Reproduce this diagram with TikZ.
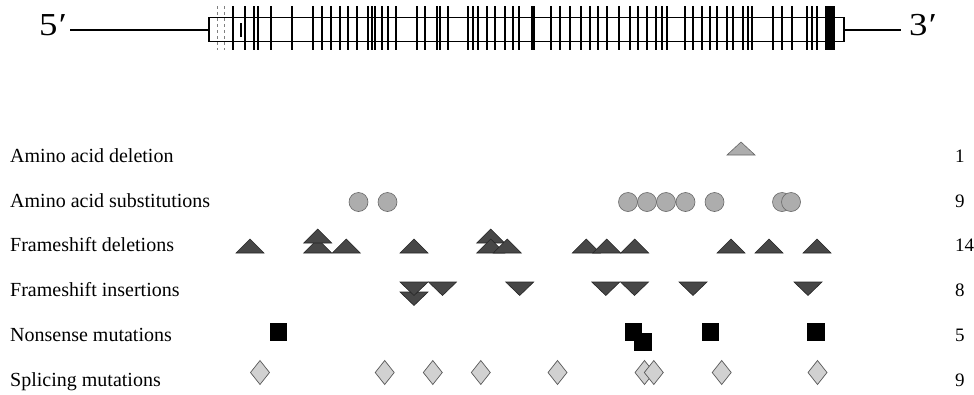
\documentclass[tikz,border=0pt]{standalone}
\usepackage{fontspec}
\setmainfont{Liberation Serif}
\begin{document}
\begin{tikzpicture}[x=1pt,y=-1pt,
    lbl/.style={anchor=base west,inner sep=0pt,font=\fontsize{20}{24}\selectfont},
    cnt/.style={anchor=base west,inner sep=0pt,font=\fontsize{19}{22}\selectfont},
    endlbl/.style={anchor=base west,inner sep=0pt,transform shape,xscale=1.15,
                   font=\fontsize{32}{36}\selectfont},
    exon/.style={line width=2.1pt},
    lightsym/.style={fill=black!32,draw=black!60,line width=0.6pt},
    darksym/.style={fill=black!72,draw=black!85,line width=0.6pt},
    diamsym/.style={fill=black!18,draw=black!65,line width=0.7pt}]

    \useasboundingbox (0,0) rectangle (974,394);

    % gene
    \node[endlbl] (five) at (39,35) {5\kern1pt′};
    \node[endlbl] (three) at (909,35) {3\kern1pt′};
    \coordinate (geneL) at (209,30);
    \coordinate (geneR) at (844,30);
    \draw[line width=2.5pt] ([xshift=3pt]five.east |- geneL) -- (geneL);
    \draw[line width=2.2pt] (geneR) -- ([xshift=-8pt]three.west |- geneR);
    \draw[line width=1.9pt] (209,17.5) rectangle (844,41.5);

    \foreach \x in {217,224}
        \draw[black!50,dashed,line width=0.6pt] (\x,6) -- (\x,50);
    \foreach \x in {233,241}
        \draw[line width=2.2pt] (\x,23) -- (\x,37);
    \foreach \x in {233,245,254,258,271,292,313,322,331,340,348,357,
                    368,372,375,382,388,396,417,425,437,440,448,468,473,478,
                    487,495,505,513,519,551,560,570,581,590,598,607,619,630,
                    638,647,656,662,667,685,693,702,710,717,727,733,743,748,
                    752,773,782,792,807,812,817}
        \draw[exon] (\x,6) -- (\x,50);
    \draw[line width=3.6pt] (533,6) -- (533,50);
    \fill (825,6) rectangle (835,50);

    % row labels and counts
    \node[lbl] (del) at (10,162) {Amino acid deletion};
    \node[lbl] (sub) at (10,207) {Amino acid substitutions};
    \node[lbl] (fsdel) at (10,251) {Frameshift deletions};
    \node[lbl] (fsins) at (10,296) {Frameshift insertions};
    \node[lbl] (nons) at (10,341) {Nonsense mutations};
    \node[lbl] (splice) at (10,386) {Splicing mutations};

    \node[cnt] (ndel) at (955,162) {1};
    \node[cnt] (nsub) at (955,207) {9};
    \node[cnt] (nfsdel) at (955,251) {14};
    \node[cnt] (nfsins) at (955,296) {8};
    \node[cnt] (nnons) at (955,341) {5};
    \node[cnt] (nsplice) at (955,386) {9};

    % mutations
    \draw[lightsym] (727,155) -- (755,155) -- (741,142) -- cycle;

    \foreach \x in {358.5,387.5,628,647,666,685.5,714.5,782,791}
        \draw[lightsym] (\x,202) circle (9.5);

    \foreach \x/\b in {250/253,317.7/253,317.7/243,346.3/253,414/253,490.7/243,
                       490.7/253,507.3/253,586.3/253,606.7/253,634.7/253,
                       731/253,769/253,817/253}
        \draw[darksym] (\x-14,\b) -- (\x+14,\b) -- (\x,\b-14) -- cycle;

    \foreach \x/\t in {414/292,414/282,442.5/282,519.7/282,605.8/282,
                       634.5/282,693/282,808/282}
        \draw[darksym] (\x-14,\t) -- (\x+14,\t) -- (\x,\t+13.5) -- cycle;

    \foreach \x/\y in {278.3/332,633.3/332,643/342,710.3/332,816/332}
        \fill (\x-8.7,\y-8.7) rectangle (\x+8.7,\y+8.7);

    \foreach \x in {260,384.7,432.8,480.8,557.5,644.5,653.8,721.7,817.5}
        \draw[diamsym] (\x,360.5) -- (\x+9.5,372.5) -- (\x,384.5) -- (\x-9.5,372.5) -- cycle;

\end{tikzpicture}
\end{document}
